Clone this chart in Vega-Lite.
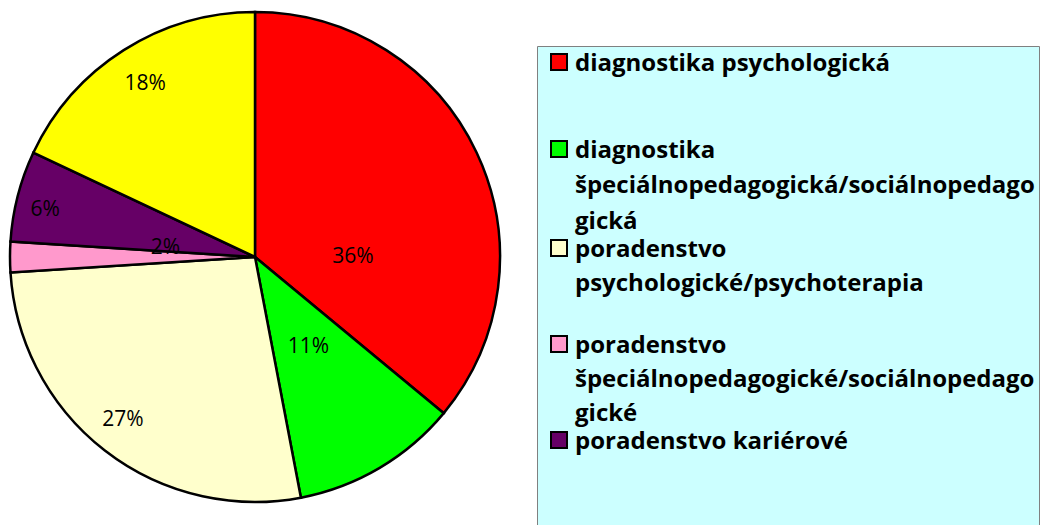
{
  "$schema": "https://vega.github.io/schema/vega-lite/v6.json",
  "width": 510,
  "height": 514,
  "padding": 0,
  "background": "white",
  "data": {
    "values": [
      {"kategoria": "diagnostika psychologická", "podiel": 36, "popis": "36%", "poradie": 1},
      {"kategoria": "diagnostika špeciálnopedagogická/sociálnopedagogická", "podiel": 11, "popis": "11%", "poradie": 2},
      {"kategoria": "poradenstvo psychologické/psychoterapia", "podiel": 27, "popis": "27%", "poradie": 3},
      {"kategoria": "poradenstvo špeciálnopedagogické/sociálnopedagogické", "podiel": 2, "popis": "2%", "poradie": 4},
      {"kategoria": "poradenstvo kariérové", "podiel": 6, "popis": "6%", "poradie": 5},
      {"kategoria": "iné", "podiel": 18, "popis": "18%", "poradie": 6}
    ]
  },
  "encoding": {
    "theta": {"field": "podiel", "type": "quantitative", "stack": true},
    "order": {"field": "poradie", "type": "quantitative"}
  },
  "layer": [
    {
      "mark": {"type": "arc", "outerRadius": 245, "stroke": "black", "strokeWidth": 2.5},
      "encoding": {
        "color": {
          "field": "kategoria",
          "type": "nominal",
          "scale": {
            "domain": ["diagnostika psychologická", "diagnostika špeciálnopedagogická/sociálnopedagogická", "poradenstvo psychologické/psychoterapia", "poradenstvo špeciálnopedagogické/sociálnopedagogické", "poradenstvo kariérové", "iné"],
            "range": ["#FF0000", "#00FF00", "#FFFFCC", "#FF99CC", "#660066", "#FFFF00"]
          },
          "legend": {
            "title": null,
            "orient": "none",
            "legendX": 537,
            "legendY": 46,
            "values": ["diagnostika psychologická", "diagnostika špeciálnopedagogická/sociálnopedagogická", "poradenstvo psychologické/psychoterapia", "poradenstvo špeciálnopedagogické/sociálnopedagogické", "poradenstvo kariérové"],
            "fillColor": "#CCFFFF",
            "strokeColor": "#808080",
            "padding": 4,
            "symbolType": "square",
            "symbolSize": 256,
            "symbolStrokeColor": "black",
            "symbolStrokeWidth": 2,
            "symbolOpacity": 1,
            "symbolOffset": 6,
            "labelOffset": 4,
            "labelFont": "Open Sans",
            "labelFontSize": 24,
            "labelFontWeight": "bold",
            "labelColor": "black",
            "labelLimit": 1000,
            "labelBaseline": "top",
            "rowPadding": 2,
            "labelExpr": "datum.label == 'diagnostika psychologická' ? ['diagnostika psychologická', ' ', ' '] : datum.label == 'diagnostika špeciálnopedagogická/sociálnopedagogická' ? ['diagnostika', 'špeciálnopedagogická/sociálnopedago', 'gická'] : datum.label == 'poradenstvo psychologické/psychoterapia' ? ['poradenstvo', 'psychologické/psychoterapia', ' '] : datum.label == 'poradenstvo špeciálnopedagogické/sociálnopedagogické' ? ['poradenstvo', 'špeciálnopedagogické/sociálnopedago', 'gické'] : ['poradenstvo kariérové', ' ', ' ']",
            "encode": {"labels": {"update": {"dy": {"value": -10.5}, "lineHeight": {"signal": "datum.value == 'diagnostika psychologická' ? 29.5 : datum.value == 'diagnostika špeciálnopedagogická/sociálnopedagogická' ? 35.5 : datum.value == 'poradenstvo kariérové' ? 38 : 34"}}}}
          }
        }
      }
    },
    {
      "mark": {"type": "text", "radius": 98, "thetaOffset": 0.44, "font": "Open Sans", "fontSize": 21, "color": "black", "align": "center", "baseline": "middle"},
      "encoding": {"text": {"condition": {"test": "datum.poradie == 1", "field": "popis"}, "value": ""}}
    },
    {
      "mark": {"type": "text", "radius": 105, "font": "Open Sans", "fontSize": 21, "color": "black", "align": "center", "baseline": "middle"},
      "encoding": {"text": {"condition": {"test": "datum.poradie == 2", "field": "popis"}, "value": ""}}
    },
    {
      "mark": {"type": "text", "radius": 90, "thetaOffset": 0.1, "font": "Open Sans", "fontSize": 21, "color": "black", "align": "center", "baseline": "middle"},
      "encoding": {"text": {"condition": {"test": "datum.poradie == 4", "field": "popis"}, "value": ""}}
    },
    {
      "mark": {"type": "text", "radius": 215, "thetaOffset": -0.03, "font": "Open Sans", "fontSize": 21, "color": "black", "align": "center", "baseline": "middle"},
      "encoding": {"text": {"condition": {"test": "datum.poradie == 5", "field": "popis"}, "value": ""}}
    },
    {
      "mark": {"type": "text", "radius": 210, "thetaOffset": 0.02, "font": "Open Sans", "fontSize": 21, "color": "black", "align": "center", "baseline": "middle"},
      "encoding": {"text": {"condition": {"test": "datum.poradie == 3", "field": "popis"}, "value": ""}}
    },
    {
      "mark": {"type": "text", "radius": 205, "font": "Open Sans", "fontSize": 21, "color": "black", "align": "center", "baseline": "middle"},
      "encoding": {"text": {"condition": {"test": "datum.poradie == 6", "field": "popis"}, "value": ""}}
    }
  ]
}
